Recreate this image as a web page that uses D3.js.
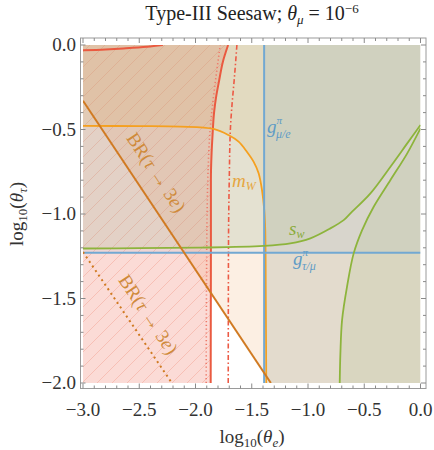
<!DOCTYPE html>
<html><head><meta charset="utf-8">
<script src="https://cdn.jsdelivr.net/npm/d3@7"></script>
<style>
body{margin:0;background:#fff;}
svg text{font-family:"Liberation Serif",serif;}
</style></head>
<body>
<svg id="c" width="434" height="450"></svg>
<script>
// ---- data (log10 theta_e, log10 theta_tau) ----
const xTicks = [-3.0,-2.5,-2.0,-1.5,-1.0,-0.5,0.0];
const yTicks = [0.0,-0.5,-1.0,-1.5,-2.0];
const redSolid = [[-1.865,-2.0],[-1.864,-1.6],[-1.863,-1.2],[-1.863,-0.8],[-1.857,-0.64],[-1.849,-0.54],[-1.835,-0.40],[-1.815,-0.30],[-1.789,-0.207],[-1.757,-0.10],[-1.71,0.0]];
const redTop = [[-3.0,-0.031],[-2.8,-0.026],[-2.64,-0.020],[-2.43,-0.010],[-2.29,0.0]];
const redDotted = [[-1.905,-2.0],[-1.902,-1.4],[-1.897,-1.0],[-1.89,-0.78],[-1.87,-0.50],[-1.84,-0.306],[-1.81,-0.148],[-1.78,0.0]];
const redDashDot = [[-1.709,-2.0],[-1.708,-1.5],[-1.706,-1.095],[-1.70,-0.80],[-1.69,-0.50],[-1.675,-0.35],[-1.656,-0.207],[-1.632,0.0]];
const mW = [[-3.0,-0.479],[-2.5,-0.480],[-2.136,-0.483],[-1.84,-0.497],[-1.707,-0.533],[-1.617,-0.572],[-1.543,-0.632],[-1.484,-0.690],[-1.439,-0.759],[-1.409,-0.858],[-1.389,-0.976],[-1.380,-1.095],[-1.375,-1.5],[-1.371,-2.0]];
const gMuE = -1.39;     // vertical blue
const gTauMu = -1.229;  // horizontal blue
const swUpper = [[-3.0,-1.204],[-2.5,-1.202],[-1.958,-1.199],[-1.395,-1.189],[-1.157,-1.174],[-0.979,-1.144],[-0.801,-1.085],[-0.683,-1.036],[-0.623,-0.996],[-0.445,-0.878],[-0.267,-0.720],[-0.118,-0.582],[0.0,-0.473]];
const swLower = [[-0.718,-2.0],[-0.712,-1.824],[-0.697,-1.627],[-0.653,-1.430],[-0.594,-1.233],[-0.519,-1.095],[-0.416,-0.957],[-0.267,-0.799],[-0.118,-0.641],[0.0,-0.493]];
const brSolid = [[-3.0,-0.33],[-1.33,-2.0]];
const brDotted = [[-3.0,-1.225],[-2.21,-2.0]];

const svg = d3.select("#c");
const x = d3.scaleLinear().domain([-3,0]).range([83,420.5]);
const y = d3.scaleLinear().domain([-2,0]).range([383,45]);
const line = d3.line().x(d=>x(d[0])).y(d=>y(d[1])).curve(d3.curveMonotoneY);
const lineX = d3.line().x(d=>x(d[0])).y(d=>y(d[1])).curve(d3.curveMonotoneX);
const cr = d3.line().x(d=>x(d[0])).y(d=>y(d[1])).curve(d3.curveCatmullRom);
const straight = d3.line().x(d=>x(d[0])).y(d=>y(d[1]));
const poly = pts => "M" + pts.map(d=>x(d[0])+","+y(d[1])).join("L") + "Z";

const defs = svg.append("defs");
const pat = defs.append("pattern").attr("id","hatch").attr("patternUnits","userSpaceOnUse")
  .attr("width",15).attr("height",15);
pat.append("path").attr("d","M0,15L15,0M-4,4L4,-4M11,19L19,11")
  .attr("stroke","#f08a78").attr("stroke-opacity",0.35).attr("stroke-width",1);
defs.append("clipPath").attr("id","plot").append("rect")
  .attr("x",x(-3)).attr("y",y(0)).attr("width",x(0)-x(-3)).attr("height",y(-2)-y(0));

const g = svg.append("g").attr("clip-path","url(#plot)");

g.append("path").attr("d",poly([...brSolid,[0,-2],[0,0],[-3,0]]))
  .attr("fill","rgba(232,150,70,0.15)");
g.append("path").attr("d",poly([[-3,-2],...redSolid,[-3,0]]))
  .attr("fill","rgba(240,110,90,0.25)");
g.append("path").attr("d",poly([[-3,-2],...redSolid,[-3,0]]))
  .attr("fill","url(#hatch)");
g.append("path").attr("d",poly([...mW,[0,-2],[0,0],[-3,0]]))
  .attr("fill","rgba(240,160,40,0.11)");
g.append("path").attr("d",poly([[gMuE,-2],[0,-2],[0,0],[gMuE,0]]))
  .attr("fill","rgba(110,160,200,0.16)");
g.append("path").attr("d",poly([[-3,gTauMu],[0,gTauMu],[0,0],[-3,0]]))
  .attr("fill","rgba(110,160,200,0.09)");
g.append("path").attr("d",poly([...swUpper,[0,0],[-3,0]]))
  .attr("fill","rgba(140,175,80,0.10)");
g.append("path").attr("d",poly([...swLower,[0,-2]]))
  .attr("fill","rgba(140,175,80,0.10)");

const stroke = (d,c,w,dash,gen)=>g.append("path").attr("d",(gen||line)(d)).attr("fill","none")
  .attr("stroke",c).attr("stroke-width",w).attr("stroke-dasharray",dash||null);
stroke(redDotted,"#ee7a6a",1.6,"1.2,2.6");
stroke(redDashDot,"#ec5a45",1.6,"5,2.5,1.5,2.5");
stroke(redSolid,"#ea5a40",2);
stroke(redTop,"#ea5a40",2,null,lineX);
stroke(mW,"#f5a020",1.8,null,cr);
g.append("line").attr("x1",x(gMuE)).attr("x2",x(gMuE)).attr("y1",y(-2)).attr("y2",y(0))
  .attr("stroke","#72a8d2").attr("stroke-width",2);
g.append("line").attr("x1",x(-3)).attr("x2",x(0)).attr("y1",y(gTauMu)).attr("y2",y(gTauMu))
  .attr("stroke","#72a8d2").attr("stroke-width",2);
stroke(swUpper,"#8db43c",1.8,null,cr);
stroke(swLower,"#8db43c",1.8,null,cr);
stroke(brSolid,"#d07a22",2,null,straight);
stroke(brDotted,"#d07a22",2,"2,3.5",straight);

const fx0=80.5, fx1=426, fy0=38, fy1=388.5;
svg.append("rect").attr("x",fx0).attr("y",fy0).attr("width",fx1-fx0).attr("height",fy1-fy0)
  .attr("fill","none").attr("stroke","#9a9a9a").attr("stroke-width",1);
const tk = svg.append("g").attr("stroke","#8a8a8a").attr("stroke-width",1);
d3.range(-30,1).forEach(i=>{
  const v=i/10, L=(i%5===0)?5:3, px=x(v);
  tk.append("line").attr("x1",px).attr("x2",px).attr("y1",fy1).attr("y2",fy1-L);
  tk.append("line").attr("x1",px).attr("x2",px).attr("y1",fy0).attr("y2",fy0+L);
});
d3.range(-20,1).forEach(i=>{
  const v=i/10, L=(i%5===0)?5:3, py=y(v);
  tk.append("line").attr("y1",py).attr("y2",py).attr("x1",fx0).attr("x2",fx0+L);
  tk.append("line").attr("y1",py).attr("y2",py).attr("x1",fx1).attr("x2",fx1-L);
});
const fmt = v => (v<0?"\u2212":"") + Math.abs(v).toFixed(1);
svg.selectAll(".xt").data(xTicks).join("text").attr("x",d=>x(d)).attr("y",416)
  .attr("text-anchor","middle").attr("font-size",19).attr("fill","#333").text(fmt);
svg.selectAll(".yt").data(yTicks).join("text").attr("x",76).attr("y",d=>y(d)+6)
  .attr("text-anchor","end").attr("font-size",19).attr("fill","#333").text(fmt);

const xl = svg.append("text").attr("x",252).attr("y",443).attr("text-anchor","middle").attr("font-size",19).attr("fill","#333");
xl.append("tspan").text("log");
xl.append("tspan").attr("font-size",13).attr("dy",4).text("10");
xl.append("tspan").attr("dy",-4).text("(");
xl.append("tspan").attr("font-style","italic").text("θ");
xl.append("tspan").attr("font-size",13).attr("font-style","italic").attr("dy",4).text("e");
xl.append("tspan").attr("dy",-4).text(")");
const yl = svg.append("text").attr("transform","translate(23,214) rotate(-90)").attr("text-anchor","middle").attr("font-size",19).attr("fill","#333");
yl.append("tspan").text("log");
yl.append("tspan").attr("font-size",13).attr("dy",4).text("10");
yl.append("tspan").attr("dy",-4).text("(");
yl.append("tspan").attr("font-style","italic").text("θ");
yl.append("tspan").attr("font-size",13).attr("font-style","italic").attr("dy",4).text("τ");
yl.append("tspan").attr("dy",-4).text(")");

const tt = svg.append("text").attr("x",252).attr("y",20).attr("text-anchor","middle").attr("font-size",20).attr("fill","#222");
tt.append("tspan").text("Type-III Seesaw; ");
tt.append("tspan").attr("font-style","italic").text("θ");
tt.append("tspan").attr("font-size",13).attr("font-style","italic").attr("dy",4).text("μ");
tt.append("tspan").attr("dy",-4).text(" = 10");
tt.append("tspan").attr("font-size",13).attr("dy",-7).text("−6");

const brLabel = (cx,cy)=>{
  const t = svg.append("text").attr("transform",`translate(${cx},${cy}) rotate(56.4)`)
    .attr("text-anchor","middle").attr("font-size",19).attr("fill","#cf8a3a");
  t.append("tspan").text("BR(");
  t.append("tspan").attr("font-style","italic").text("τ");
  t.append("tspan").text(" → 3");
  t.append("tspan").attr("font-style","italic").text("e");
  t.append("tspan").text(")");
};
brLabel(151,176);
brLabel(143,318);
const mw = svg.append("text").attr("x",232).attr("y",187).attr("font-size",19).attr("fill","#e6a640").attr("font-style","italic");
mw.append("tspan").text("m");
mw.append("tspan").attr("font-size",12).attr("dy",3).text("W");
const gl = (x0,y0,sub)=>{
  const t = svg.append("text").attr("x",x0).attr("y",y0).attr("font-size",19).attr("fill","#5f9cc6").attr("font-style","italic");
  t.append("tspan").text("g");
  t.append("tspan").attr("font-size",11).attr("dy",-9).text("π");
  t.append("tspan").attr("font-size",12).attr("dx",-6).attr("dy",14).text(sub);
};
gl(267,133,"μ/e");
gl(293,265,"τ/μ");
const sw = svg.append("text").attr("x",289).attr("y",235).attr("font-size",19).attr("fill","#8aab3a").attr("font-style","italic");
sw.append("tspan").text("s");
sw.append("tspan").attr("font-size",12).attr("dy",3).text("w");
</script>
</body></html>
